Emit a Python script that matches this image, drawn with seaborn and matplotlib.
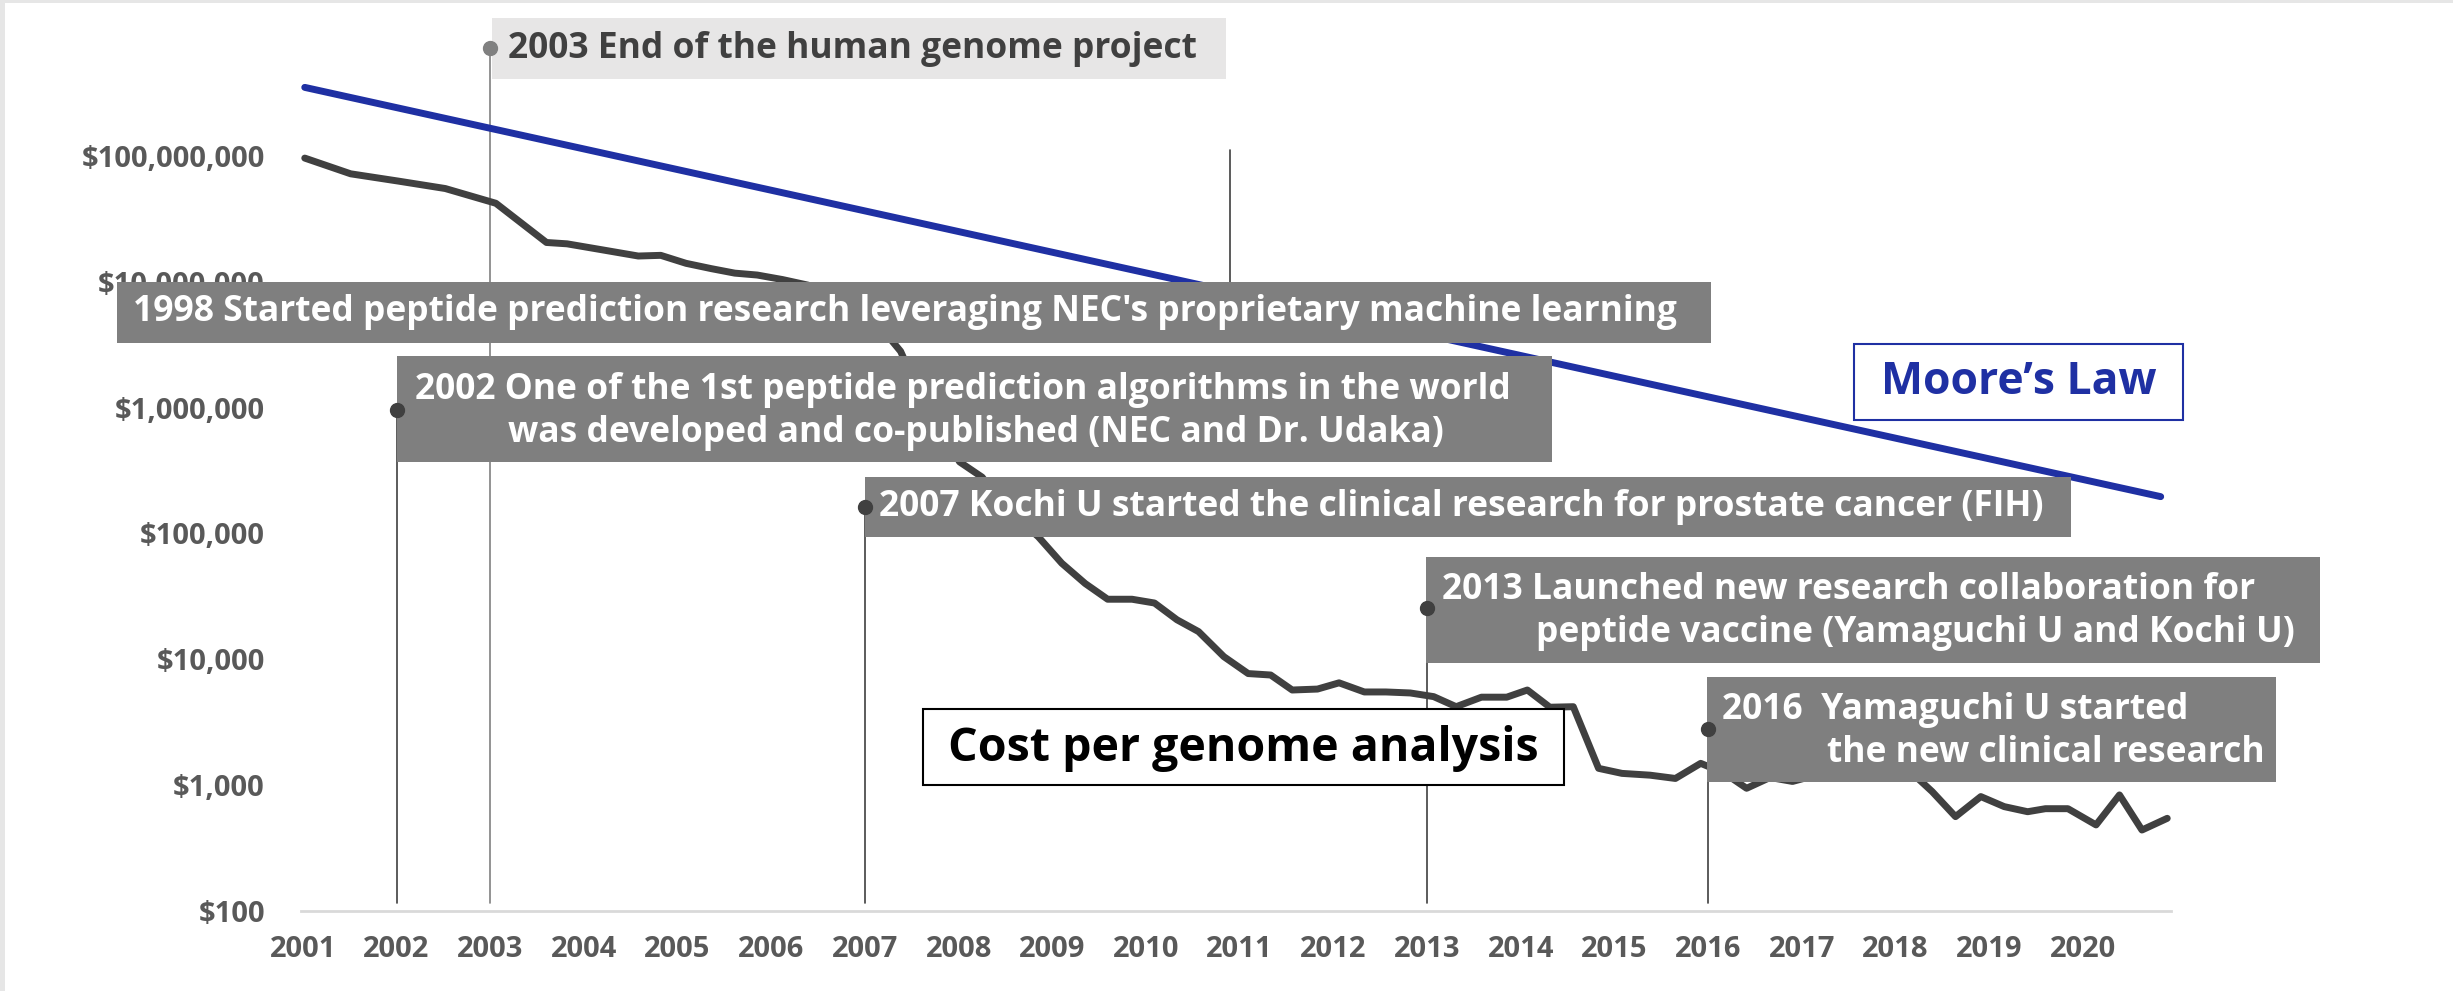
import numpy as np
import pandas as pd
import matplotlib
matplotlib.use('Agg')
import matplotlib.pyplot as plt
import seaborn as sns
from matplotlib.patches import Rectangle
from matplotlib.lines import Line2D
from matplotlib.ticker import FuncFormatter, FixedLocator
from matplotlib.transforms import blended_transform_factory

# cost per genome (log scale)
cost_year = [2001.02, 2001.51, 2002.02, 2002.52, 2003.06, 2003.60, 2003.82, 2004.18,
             2004.58, 2004.82, 2005.09, 2005.36, 2005.61, 2005.85, 2006.12, 2006.39,
             2006.65, 2006.90, 2007.15, 2007.38, 2007.65, 2008.01, 2008.25, 2008.50,
             2008.85, 2009.10, 2009.35, 2009.59, 2009.85, 2010.09, 2010.33, 2010.56,
             2010.83, 2011.09, 2011.33, 2011.56, 2011.83, 2012.06, 2012.33, 2012.56,
             2012.82, 2013.07, 2013.31, 2013.58, 2013.85, 2014.07, 2014.31, 2014.56,
             2014.83, 2015.08, 2015.38, 2015.65, 2015.92, 2016.17, 2016.41, 2016.66,
             2016.90, 2017.15, 2017.40, 2017.65, 2017.90, 2018.15, 2018.39, 2018.64,
             2018.91, 2019.16, 2019.41, 2019.60, 2019.84, 2020.14, 2020.39, 2020.63,
             2020.90]
cost_usd = [9.6e7, 7.2e7, 6.3e7, 5.5e7, 4.2e7, 2.05e7, 2.0e7, 1.8e7,
            1.6e7, 1.62e7, 1.4e7, 1.27e7, 1.17e7, 1.13e7, 1.04e7, 9.4e6,
            8.0e6, 6.3e6, 4.5e6, 2.8e6, 1.0e6, 3.7e5, 2.8e5, 1.6e5,
            9.4e4, 5.8e4, 4.0e4, 3.0e4, 3.0e4, 2.8e4, 2.06e4, 1.66e4,
            1.05e4, 7.7e3, 7.5e3, 5.7e3, 5.8e3, 6.5e3, 5.5e3, 5.5e3,
            5.4e3, 5.05e3, 4.2e3, 5.0e3, 5.0e3, 5.7e3, 4.16e3, 4.2e3,
            1.36e3, 1.24e3, 1.2e3, 1.13e3, 1.49e3, 1.25e3, 944, 1.15e3,
            1.07e3, 1.2e3, 1.15e3, 1.25e3, 1.2e3, 1.3e3, 890, 562,
            811, 675, 615, 650, 650, 483, 836, 440,
            545]

# Moore's law reference line (end points)
moore_year = [2001.02, 2020.83]
moore_usd = [3.5e8, 1.96e5]

tick_years = list(range(2001, 2021))
y_ticks = [1e2, 1e3, 1e4, 1e5, 1e6, 1e7, 1e8]

# milestone call-outs
event_years = [2002, 2003, 2007, 2013, 2016]
event_top_px = [410, 48, 507, 608, 729]
event_colors = ['#404040', '#808080', '#404040', '#404040', '#404040']

W, H = 2453, 991
def fx(x):
    return x / W
def fy(y):
    return 1 - y / H

sns.set_theme(style='white')
plt.rcParams['font.family'] = ['Open Sans', 'DejaVu Sans']

fig = plt.figure(figsize=(W / 100, H / 100), dpi=100)
fig.patch.set_facecolor('white')
ax = fig.add_axes([fx(301), fy(911), fx(2171) - fx(301), fy(30) - fy(911)])
ax.set_facecolor('none')

sns.lineplot(x=moore_year, y=moore_usd, ax=ax, color='#1f30a3', linewidth=5)
sns.lineplot(x=cost_year, y=cost_usd, ax=ax, color='#404040', linewidth=5,
             solid_joinstyle='round', solid_capstyle='round')

ax.set_yscale('log')
ax.set_ylim(1e2, 1e9)
ax.set_xlim(2000.98, 2020.94)
ax.yaxis.set_major_locator(FixedLocator(y_ticks))
ax.yaxis.set_minor_locator(FixedLocator([]))
ax.yaxis.set_major_formatter(FuncFormatter(lambda v, p: f'${v:,.0f}'))
ax.set_xticks(tick_years)
ax.set_xticklabels([str(y) for y in tick_years])
ax.tick_params(axis='y', length=0, pad=26, labelsize=21, labelcolor='#595959')
ax.tick_params(axis='x', length=0, pad=17, labelsize=21, labelcolor='#595959')
for lab in ax.get_xticklabels() + ax.get_yticklabels():
    lab.set_fontweight('bold')
for side in ['top', 'right', 'left']:
    ax.spines[side].set_visible(False)
ax.spines['bottom'].set_color('#d9d9d9')
ax.spines['bottom'].set_linewidth(2)
ax.grid(False)

# vertical call-out lines
trans = blended_transform_factory(ax.transData, fig.transFigure)
for yr, top, c in zip(event_years, event_top_px, event_colors):
    ax.plot([yr, yr], [fy(top), fy(903)], transform=trans, color=c, lw=1.2,
            clip_on=False, zorder=1)
ax.plot([2010.9, 2010.9], [fy(150), fy(282)], transform=trans, color='#404040',
        lw=1.2, clip_on=False, zorder=1)

# boxes (pixel rectangles: x0, y0, x1, y1)
def box(x0, y0, x1, y1, face, edge=None, lw=0):
    r = Rectangle((fx(x0), fy(y1)), fx(x1) - fx(x0), fy(y0) - fy(y1),
                  transform=fig.transFigure, facecolor=face,
                  edgecolor=edge if edge else face, linewidth=lw, zorder=2)
    fig.add_artist(r)

def label(x, y, s, color='white', size=25.5, ha='left'):
    fig.text(fx(x), fy(y), s, color=color, fontsize=size, fontweight='bold',
             ha=ha, va='center', zorder=3)

# screenshot frame
box(0, 0, W, 3, '#e6e6e6')
box(0, 0, 5, H, '#e6e6e6')

box(492, 18, 1226, 79, '#e7e6e6')
label(508, 49, '2003 End of the human genome project', color='#404040')

box(117, 282, 1711, 343, '#7f7f7f')
label(133, 312, "1998 Started peptide prediction research leveraging NEC's proprietary machine learning")

box(397, 356, 1552, 462, '#7f7f7f')
label(963, 390, '2002 One of the 1st peptide prediction algorithms in the world', ha='center')
label(976, 433, 'was developed and co-published (NEC and Dr. Udaka)', ha='center')

box(865, 477, 2071, 537, '#7f7f7f')
label(879, 507, '2007 Kochi U started the clinical research for prostate cancer (FIH)')

box(1426, 557, 2320, 663, '#7f7f7f')
label(1442, 590, '2013 Launched new research collaboration for')
label(1536, 633, 'peptide vaccine (Yamaguchi U and Kochi U)')

box(1707, 677, 2276, 782, '#7f7f7f')
label(1722, 710, '2016  Yamaguchi U started')
label(1827, 753, 'the new clinical research')

box(923, 709, 1564, 785, 'white', edge='black', lw=1.5)
label(1243, 748, 'Cost per genome analysis', color='black', size=33.5, ha='center')

box(1854, 344, 2183, 420, 'white', edge='#1f30a3', lw=1.5)
label(2019, 383, 'Moore\u2019s Law', color='#1f30a3', size=32, ha='center')

# call-out end dots
for yr, top, c in zip(event_years, event_top_px, event_colors):
    fig.add_artist(Line2D([yr], [fy(top)], transform=trans, marker='o',
                          markersize=10, color=c, zorder=4))

fig.savefig('out.png', dpi=100)
